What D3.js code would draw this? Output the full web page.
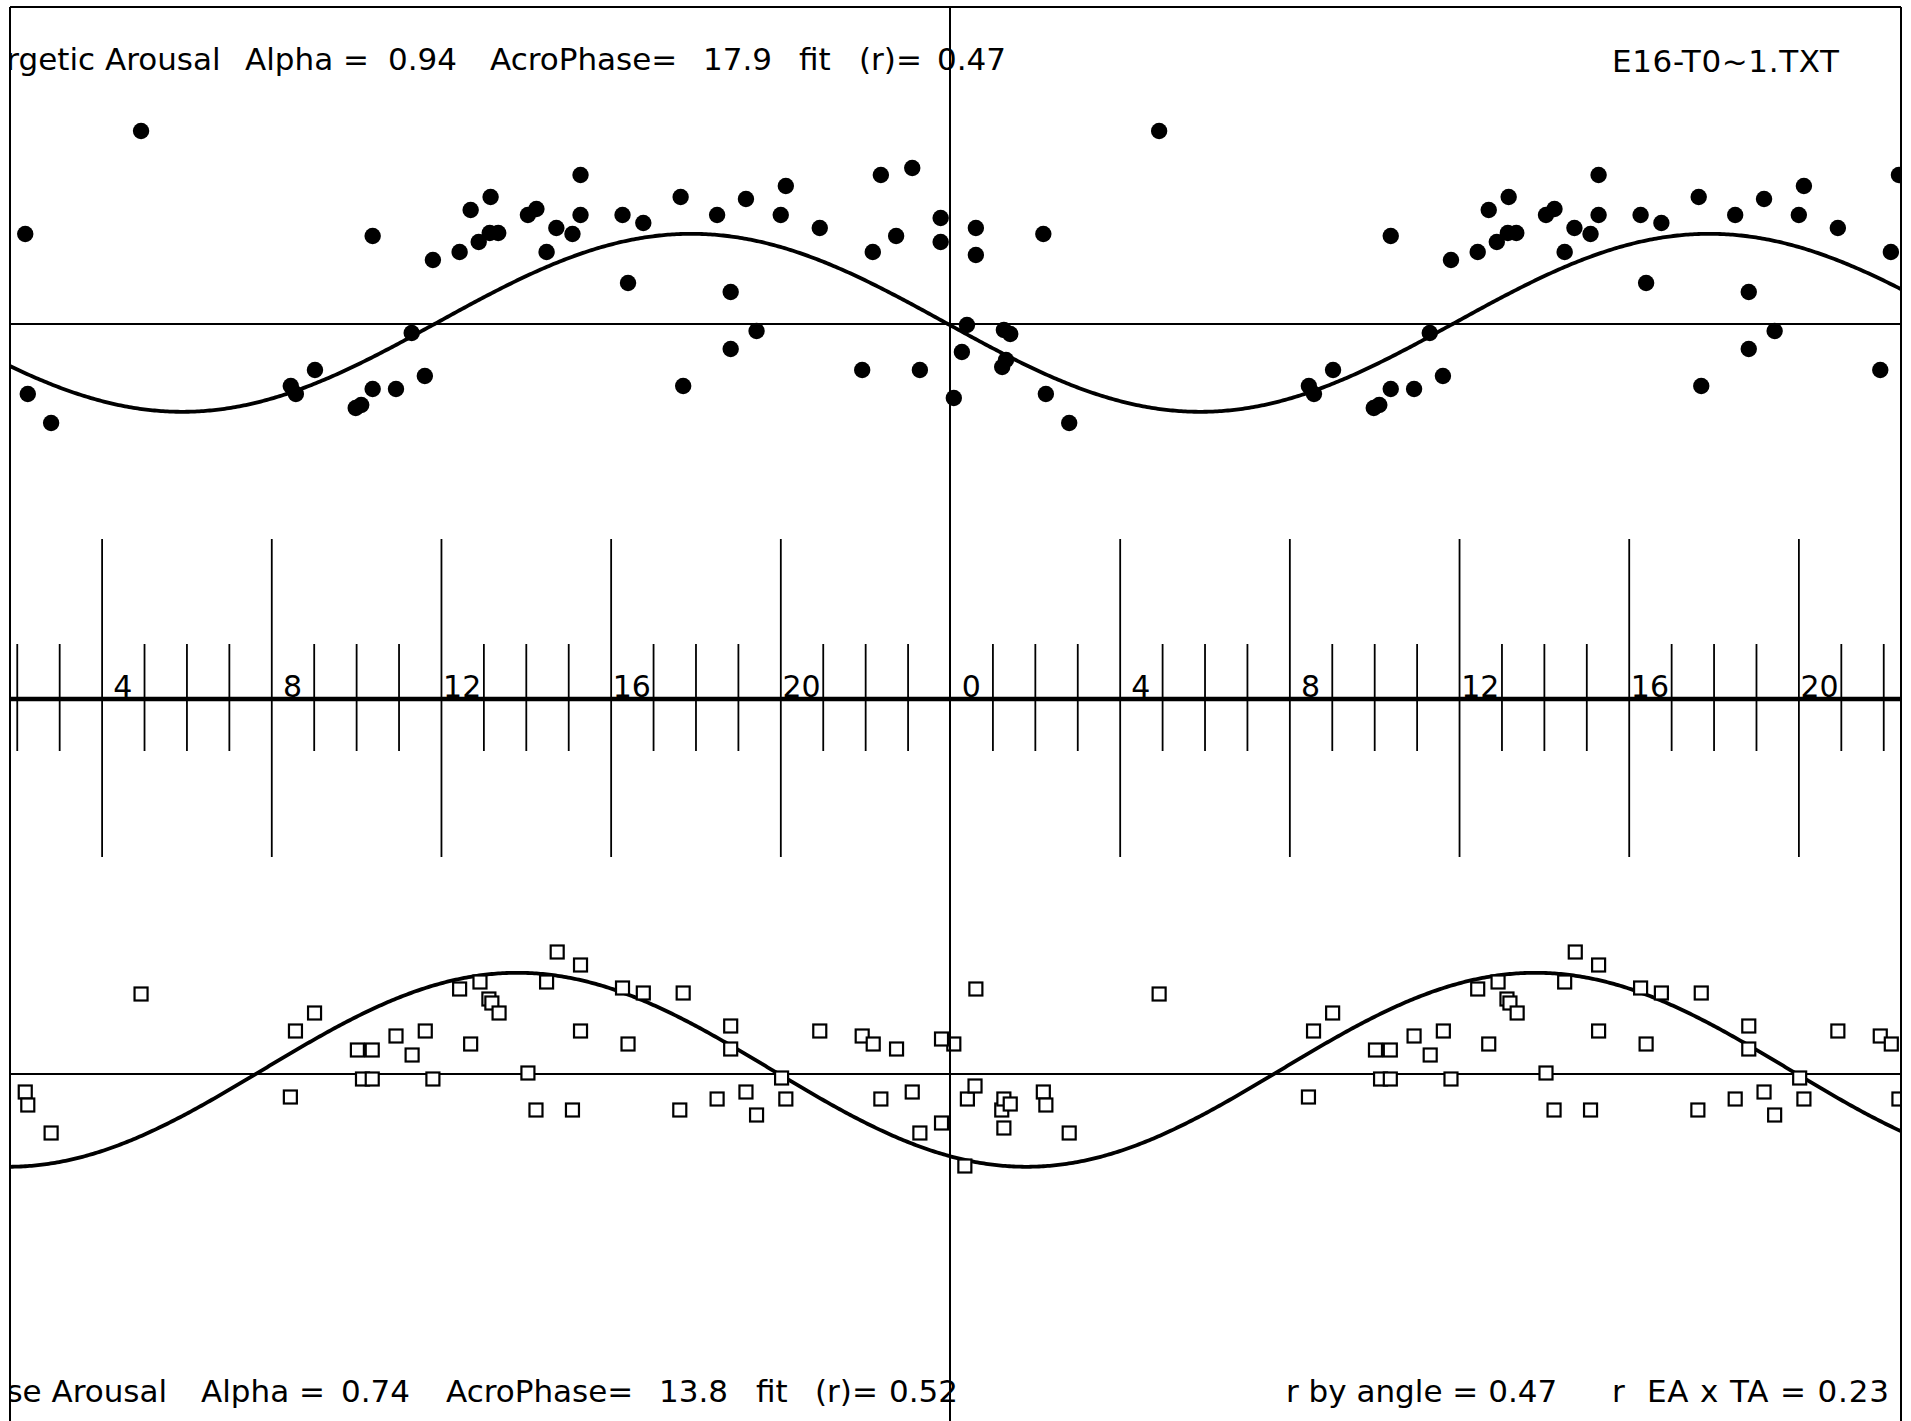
<!DOCTYPE html>
<html><head><meta charset="utf-8">
<script src="https://cdn.jsdelivr.net/npm/d3@7"></script>
<style>html,body{margin:0;padding:0;background:#fff;} svg{display:block;} text{white-space:pre;}</style>
</head><body>
<svg id="chart" width="1911" height="1421"></svg>
<script>
// ---------------- DATA ----------------
// Energetic Arousal (filled circles): clock hour, value (SD-like units)
const energeticHours = [0.09,0.28,0.40,0.61,0.61,1.23,1.27,1.32,1.42,2.20,2.26,2.81,4.93,8.46,8.58,9.03,9.99,10.12,10.39,10.39,10.94,11.31,11.62,11.81,12.44,12.70,12.89,13.15,13.17,13.35,14.05,14.25,14.49,14.72,15.10,15.29,15.29,16.28,16.41,16.77,17.65,17.71,18.51,18.83,18.83,19.19,19.44,20.01,20.13,20.93,21.93,22.18,22.37,22.73,23.11,23.29,23.78,23.78];
const energeticValues = [-0.74,-0.28,-0.01,0.96,0.69,-0.43,-0.06,-0.36,-0.10,0.90,-0.70,-0.99,1.93,-0.62,-0.70,-0.46,-0.84,-0.81,0.88,-0.65,-0.65,-0.09,-0.52,0.64,0.72,1.14,0.82,0.91,1.27,0.91,1.09,1.15,0.72,0.96,0.90,1.49,1.09,1.09,0.41,1.01,1.27,-0.62,1.09,0.32,-0.25,1.25,-0.07,1.09,1.38,0.96,-0.46,0.72,1.49,0.88,1.56,-0.46,1.06,0.82];
// Tense Arousal (open squares)
const tenseHours = [0.09,0.35,0.41,0.59,0.61,1.22,1.27,1.27,1.42,2.20,2.26,2.81,4.93,8.45,8.57,9.02,10.03,10.15,10.38,10.38,10.94,11.32,11.63,11.81,12.44,12.70,12.92,13.13,13.20,13.37,14.05,14.24,14.49,14.74,15.10,15.29,15.29,16.28,16.41,16.77,17.63,17.71,18.51,18.83,18.83,19.19,19.44,20.03,20.13,20.93,21.93,22.19,22.37,22.74,23.11,23.29,23.80,23.80];
const tenseValues = [0.30,-0.92,-0.25,-0.12,0.85,-0.36,-0.25,-0.54,-0.30,-0.18,-0.31,-0.59,0.80,-0.23,0.43,0.61,0.24,-0.05,0.24,-0.05,0.38,0.19,0.43,-0.05,0.85,0.30,0.92,0.75,0.71,0.61,0.01,-0.36,0.92,1.22,-0.36,1.09,0.43,0.86,0.30,0.81,-0.36,0.81,-0.25,0.48,0.25,-0.18,-0.41,-0.04,-0.25,0.43,0.38,0.30,-0.25,0.25,-0.18,-0.59,0.35,-0.49];
// Cosinor fits: [mesor, amplitude, acrophase (h)]
const energeticFit = [0.012, 0.89, 17.9];
const tenseFit = [0.042, 0.97, 13.8];
// Axis
const majorTickHours = [4, 8, 12, 16, 20];
const tickLabels = ["0", "4", "8", "12", "16", "20"];
const tickLabelHours = [0, 4, 8, 12, 16, 20];
// Header / footer statistics
const energeticStats = ["Energetic Arousal", "Alpha =", "0.94", "AcroPhase=", "17.9", "fit", "(r)=", "0.47"];
const tenseStats = ["Tense Arousal", "Alpha =", "0.74", "AcroPhase=", "13.8", "fit", "(r)=", "0.52"];
const fileName = "E16-T0~1.TXT";
const corrTexts = ["r by angle = 0.47", "r  EA x TA = 0.23"];

// ---------------- LAYOUT ----------------
const svg = d3.select('#chart');
const L = 10, R = 1901, T = 7, H = 1421;
const cx = 950, pxPerHour = 42.42;
const x = d3.scaleLinear().domain([-24, 24]).range([cx - 24 * pxPerHour, cx + 24 * pxPerHour]);
const yE = d3.scaleLinear().domain([-1, 1]).range([424, 224]);
const yT = d3.scaleLinear().domain([-1, 1]).range([1174, 974]);
const axisY = 699;

svg.append('defs').append('clipPath').attr('id', 'frame')
  .append('rect').attr('x', L).attr('y', 0).attr('width', R - L).attr('height', H);

const plot = svg.append('g').attr('clip-path', 'url(#frame)');

// baselines
[yE(0), yT(0)].forEach(yy => {
  plot.append('line').attr('x1', L).attr('x2', R).attr('y1', yy).attr('y2', yy)
    .attr('stroke', '#000').attr('stroke-width', 1.8);
});

// double-plotted data (previous day on the left, current day on the right)
const doubled = (hs, vs) => hs.flatMap((h, i) => [{t: h - 24, v: vs[i]}, {t: h, v: vs[i]}]);

// fit curves
const fitFn = p => t => p[0] + p[1] * Math.cos(2 * Math.PI * (t - p[2]) / 24);
const ts = d3.range(-24, 24.0001, 0.05);
[[energeticFit, yE], [tenseFit, yT]].forEach(([p, ys]) => {
  const f = fitFn(p);
  plot.append('path')
    .attr('d', d3.line().x(t => x(t)).y(t => ys(f(t)))(ts))
    .attr('fill', 'none').attr('stroke', '#000').attr('stroke-width', 3.8);
});

// energetic points
plot.append('g').selectAll('circle').data(doubled(energeticHours, energeticValues)).join('circle')
  .attr('cx', d => x(d.t)).attr('cy', d => yE(d.v)).attr('r', 8.2).attr('fill', '#000');

// tense points
const sq = 13;
plot.append('g').selectAll('rect').data(doubled(tenseHours, tenseValues)).join('rect')
  .attr('x', d => x(d.t) - sq / 2).attr('y', d => yT(d.v) - sq / 2)
  .attr('width', sq).attr('height', sq)
  .attr('fill', '#fff').attr('stroke', '#000').attr('stroke-width', 2.2);

// ---------------- AXIS ----------------
const majors = majorTickHours.flatMap(h => [h - 24, h]);
const minors = d3.range(-23, 24).filter(h => h % 4 !== 0 && x(h) > L && x(h) < R);
const axG = svg.append('g').attr('clip-path', 'url(#frame)');
const gMaj = axG.append('g').attr('transform', `translate(0,539)`)
  .call(d3.axisBottom(x).tickValues(majors).tickSize(318).tickFormat(''));
const gMin = axG.append('g').attr('transform', `translate(0,644)`)
  .call(d3.axisBottom(x).tickValues(minors).tickSize(107).tickFormat(''));
[gMaj, gMin].forEach(g => {
  g.select('.domain').remove();
  g.selectAll('.tick line').attr('stroke', '#000').attr('stroke-width', 1.8);
});
axG.append('line').attr('x1', L).attr('x2', R).attr('y1', axisY).attr('y2', axisY)
  .attr('stroke', '#000').attr('stroke-width', 4.5);

const labelData = tickLabelHours.flatMap((h, i) => [{t: h - 24 + 0.5, s: tickLabels[i]}, {t: h + 0.5, s: tickLabels[i]}])
  .filter(d => x(d.t) > L && x(d.t) < R);
axG.append('g').selectAll('text').data(labelData).join('text')
  .attr('x', d => x(d.t)).attr('y', axisY - 2)
  .attr('text-anchor', 'middle')
  .attr('font-family', 'DejaVu Sans').attr('font-size', 30).attr('fill', '#000')
  .text(d => d.s);

// ---------------- TEXTS ----------------
const txtG = svg.append('g').attr('clip-path', 'url(#frame)');
function token(s, x0, y, len) {
  const t = txtG.append('text').attr('x', x0).attr('y', y)
    .attr('font-family', 'DejaVu Sans').attr('font-size', 31).attr('fill', '#000')
    .text(s);
  if (len) t.attr('textLength', len).attr('lengthAdjust', 'spacing');
}
const topX = [-52, 245, 388, 490, 703, 799, 859, 937];
energeticStats.forEach((s, i) => token(s, topX[i], 70));
const botX = [-46, 201, 341, 446, 659, 756, 815, 889];
tenseStats.forEach((s, i) => token(s, botX[i], 1402));
token(fileName, 1612, 72, 227);
token(corrTexts[0], 1286, 1402);
token(corrTexts[1], 1612, 1402, 277);

// ---------------- FRAME ----------------
const fr = svg.append('g').attr('stroke', '#000').attr('stroke-width', 2);
fr.append('line').attr('x1', L).attr('x2', R).attr('y1', T).attr('y2', T);
fr.append('line').attr('x1', L).attr('x2', L).attr('y1', T).attr('y2', H);
fr.append('line').attr('x1', R).attr('x2', R).attr('y1', T).attr('y2', H);
fr.append('line').attr('x1', cx).attr('x2', cx).attr('y1', T).attr('y2', H);
</script>
</body></html>
